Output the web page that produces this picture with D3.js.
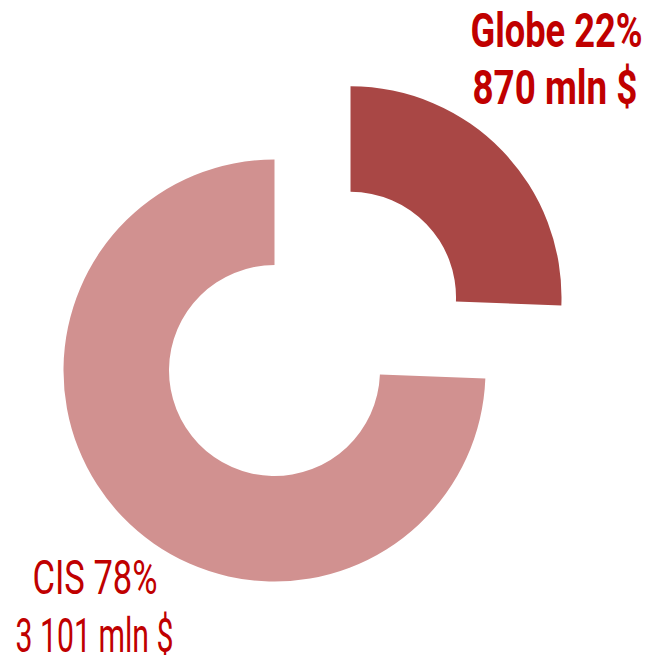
<!DOCTYPE html>
<html>
<head>
<meta charset="utf-8">
<script src="https://cdn.jsdelivr.net/npm/d3@7"></script>
<style>
  body { margin: 0; background: #fff; }
  svg { display: block; }
</style>
</head>
<body>
<div id="chart"></div>
<script>
// Dados
const categories = ["Globe", "CIS"];
const percents = [22, 78];
const amounts = ["870", "3 101"];
// slice sizes as drawn in the picture (degrees of the ring)
const sliceShares = [92.2, 267.8];
const explode = [0.5, 0];

const W = 649, H = 655;
const cx = 274.5, cy = 370.5;
const outerR = 211, innerR = 105.5;
const colors = ["#A94745", "#D19190"];
const textColor = "#C00000";

const svg = d3.select("#chart").append("svg")
    .attr("width", W)
    .attr("height", H);

const data = categories.map((c, i) => ({ name: c, share: sliceShares[i], pct: percents[i], amount: amounts[i], ex: explode[i] }));

const pie = d3.pie().sort(null).value(d => d.share);
const arc = d3.arc().innerRadius(innerR).outerRadius(outerR);

const g = svg.append("g").attr("transform", `translate(${cx},${cy})`);

g.selectAll("path")
    .data(pie(data))
    .enter().append("path")
    .attr("d", arc)
    .attr("fill", (d, i) => colors[i])
    .attr("transform", d => {
        const mid = (d.startAngle + d.endAngle) / 2;
        const off = d.data.ex * outerR;
        return `translate(${off * Math.sin(mid)},${-off * Math.cos(mid)})`;
    });

// Labels: no condensed face installed, so each line is squeezed horizontally to its width
const labels = [
    { text: `${categories[0]} ${percents[0]}%`, cx: 556.5, y: 46.7, w: 172, bold: true },
    { text: `${amounts[0]} mln $`, cx: 555, y: 104, w: 165, bold: true },
    { text: `${categories[1]} ${percents[1]}%`, cx: 95, y: 594.3, w: 125, bold: false },
    { text: `${amounts[1]} mln $`, cx: 94.5, y: 651.7, w: 158, bold: false }
];

svg.selectAll("text.lbl")
    .data(labels)
    .enter().append("text")
    .attr("class", "lbl")
    .style("font-family", "Roboto, 'Liberation Sans', sans-serif")
    .style("font-size", "48px")
    .style("font-weight", d => d.bold ? "bold" : "normal")
    .style("fill", textColor)
    .text(d => d.text)
    .attr("transform", function(d) {
        const natural = this.getComputedTextLength();
        const sx = d.w / natural;
        return `translate(${d.cx - d.w / 2},${d.y}) scale(${sx},1)`;
    });
</script>
</body>
</html>
